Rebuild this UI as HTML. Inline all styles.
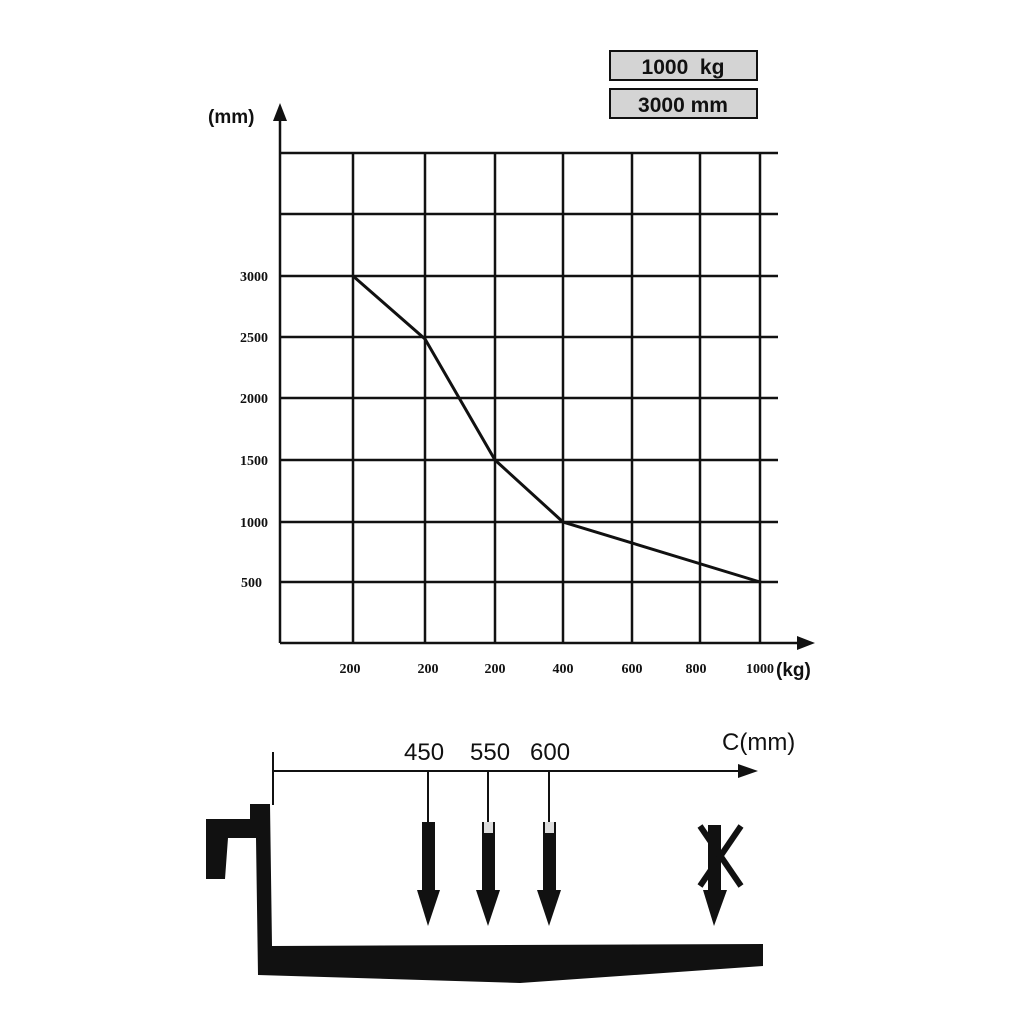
<!DOCTYPE html>
<html><head><style>
html,body{margin:0;padding:0;background:#fff;width:1024px;height:1024px;overflow:hidden}
</style></head><body>
<svg width="1024" height="1024" viewBox="0 0 1024 1024" xmlns="http://www.w3.org/2000/svg" font-family="Liberation Sans, sans-serif">
<rect width="1024" height="1024" fill="#fff"/>
<rect x="610" y="51" width="147" height="29" fill="#d4d4d4" stroke="#111" stroke-width="2"/>
<text x="683" y="74" font-size="21" font-weight="bold" text-anchor="middle" fill="#111">1000&#160; kg</text>
<rect x="610" y="89" width="147" height="29" fill="#d4d4d4" stroke="#111" stroke-width="2"/>
<text x="683" y="112" font-size="21" font-weight="bold" text-anchor="middle" fill="#111">3000 mm</text>
<g stroke="#111" stroke-width="2.5" fill="none">
<line x1="280" y1="153" x2="778" y2="153"/>
<line x1="280" y1="214" x2="778" y2="214"/>
<line x1="280" y1="276" x2="778" y2="276"/>
<line x1="280" y1="337" x2="778" y2="337"/>
<line x1="280" y1="398" x2="778" y2="398"/>
<line x1="280" y1="460" x2="778" y2="460"/>
<line x1="280" y1="522" x2="778" y2="522"/>
<line x1="280" y1="582" x2="778" y2="582"/>
<line x1="280" y1="643" x2="800" y2="643"/>
<line x1="280" y1="118" x2="280" y2="643"/>
<line x1="353" y1="153" x2="353" y2="643"/>
<line x1="425" y1="153" x2="425" y2="643"/>
<line x1="495" y1="153" x2="495" y2="643"/>
<line x1="563" y1="153" x2="563" y2="643"/>
<line x1="632" y1="153" x2="632" y2="643"/>
<line x1="700" y1="153" x2="700" y2="643"/>
<line x1="760" y1="153" x2="760" y2="643"/>
<polyline points="353,276 425,339 495,460 563,522 760,582" stroke-width="3"/>
</g>
<polygon points="280,103 273,121 287,121" fill="#111"/>
<polygon points="815,643 797,636 797,650" fill="#111"/>
<text x="208" y="123" font-size="19" font-weight="bold" fill="#111">(mm)</text>
<g font-family="Liberation Serif, serif" font-size="14" font-weight="bold" fill="#111" text-anchor="end">
<text x="268" y="281">3000</text><text x="268" y="342">2500</text><text x="268" y="403">2000</text>
<text x="268" y="465">1500</text><text x="268" y="527">1000</text><text x="262" y="587">500</text>
</g>
<g font-family="Liberation Serif, serif" font-size="14" font-weight="bold" fill="#111" text-anchor="middle">
<text x="350" y="673">200</text><text x="428" y="673">200</text><text x="495" y="673">200</text>
<text x="563" y="673">400</text><text x="632" y="673">600</text><text x="696" y="673">800</text>
<text x="760" y="673">1000</text>
</g>
<text x="776" y="676" font-size="19" font-weight="bold" fill="#111">(kg)</text>
<text x="404" y="760" font-size="24" fill="#111">450</text>
<text x="470" y="760" font-size="24" fill="#111">550</text>
<text x="530" y="760" font-size="24" fill="#111">600</text>
<text x="722" y="750" font-size="24" fill="#111">C(mm)</text>
<g stroke="#111" stroke-width="2">
<line x1="273" y1="752" x2="273" y2="805"/>
<line x1="273" y1="771" x2="740" y2="771"/>
<line x1="428" y1="771" x2="428" y2="824"/>
<line x1="488" y1="771" x2="488" y2="824"/>
<line x1="549" y1="771" x2="549" y2="824"/>
</g>
<polygon points="758,771 738,764 738,778" fill="#111"/>
<g fill="#111">
<rect x="422" y="822" width="13" height="72"/><polygon points="417,890 440,890 428,926"/>
<rect x="482" y="822" width="13" height="72"/><polygon points="476,890 500,890 488,926"/>
<rect x="543" y="822" width="13" height="72"/><polygon points="537,890 561,890 549,926"/>
<rect x="708" y="825" width="13" height="69"/><polygon points="703,890 727,890 714,926"/>
</g>
<rect x="484" y="822" width="9" height="11" fill="#ddd"/>
<rect x="545" y="822" width="9" height="11" fill="#ddd"/>
<g stroke="#111" stroke-width="6"><line x1="700" y1="826" x2="741" y2="886"/><line x1="741" y1="826" x2="700" y2="886"/></g>
<path d="M206,819 L250,819 L250,804 L270,804 L272,946 L763,944 L763,966 L520,983 L258,975 L256,838 L228,838 L225,879 L206,879 Z" fill="#111"/>
</svg>
</body></html>
